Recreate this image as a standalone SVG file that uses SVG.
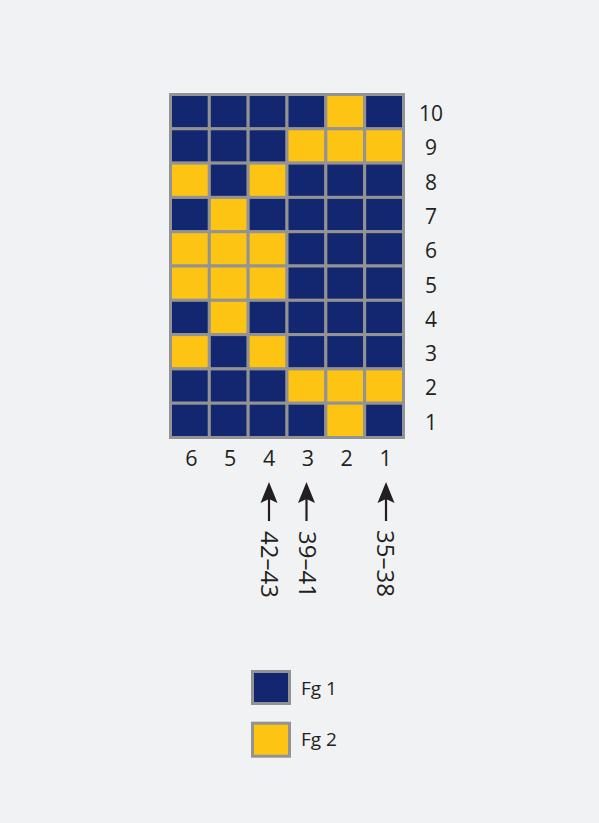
<svg xmlns="http://www.w3.org/2000/svg" width="599" height="823" viewBox="0 0 599 823">
<style>
.n{fill:#12276f;stroke:#939393;stroke-width:3}
.y{fill:#fec413;stroke:#939393;stroke-width:3}
text{font-family:"Open Sans","Noto Sans","Liberation Sans",sans-serif;fill:#231f20}
.rl{font-size:21px;text-anchor:middle}
.cl{font-size:21.5px;text-anchor:middle}
.rt{font-size:24px}
.lg{font-size:19px}
.ar{stroke:#231f20;stroke-width:2.2;fill:none}
.ah{fill:#231f20}
</style>
<rect x="0" y="0" width="599" height="823" fill="#f1f2f4"/>
<g id="grid">
<!-- row 10 -->
<rect class="n" x="170.5" y="94.5" width="38.83" height="34.3"/>
<rect class="n" x="209.33" y="94.5" width="38.83" height="34.3"/>
<rect class="n" x="248.17" y="94.5" width="38.83" height="34.3"/>
<rect class="n" x="287" y="94.5" width="38.83" height="34.3"/>
<rect class="y" x="325.83" y="94.5" width="38.83" height="34.3"/>
<rect class="n" x="364.67" y="94.5" width="38.83" height="34.3"/>
<!-- row 9 -->
<rect class="n" x="170.5" y="128.8" width="38.83" height="34.3"/>
<rect class="n" x="209.33" y="128.8" width="38.83" height="34.3"/>
<rect class="n" x="248.17" y="128.8" width="38.83" height="34.3"/>
<rect class="y" x="287" y="128.8" width="38.83" height="34.3"/>
<rect class="y" x="325.83" y="128.8" width="38.83" height="34.3"/>
<rect class="y" x="364.67" y="128.8" width="38.83" height="34.3"/>
<!-- row 8 -->
<rect class="y" x="170.5" y="163.1" width="38.83" height="34.3"/>
<rect class="n" x="209.33" y="163.1" width="38.83" height="34.3"/>
<rect class="y" x="248.17" y="163.1" width="38.83" height="34.3"/>
<rect class="n" x="287" y="163.1" width="38.83" height="34.3"/>
<rect class="n" x="325.83" y="163.1" width="38.83" height="34.3"/>
<rect class="n" x="364.67" y="163.1" width="38.83" height="34.3"/>
<!-- row 7 -->
<rect class="n" x="170.5" y="197.4" width="38.83" height="34.3"/>
<rect class="y" x="209.33" y="197.4" width="38.83" height="34.3"/>
<rect class="n" x="248.17" y="197.4" width="38.83" height="34.3"/>
<rect class="n" x="287" y="197.4" width="38.83" height="34.3"/>
<rect class="n" x="325.83" y="197.4" width="38.83" height="34.3"/>
<rect class="n" x="364.67" y="197.4" width="38.83" height="34.3"/>
<!-- row 6 -->
<rect class="y" x="170.5" y="231.7" width="38.83" height="34.3"/>
<rect class="y" x="209.33" y="231.7" width="38.83" height="34.3"/>
<rect class="y" x="248.17" y="231.7" width="38.83" height="34.3"/>
<rect class="n" x="287" y="231.7" width="38.83" height="34.3"/>
<rect class="n" x="325.83" y="231.7" width="38.83" height="34.3"/>
<rect class="n" x="364.67" y="231.7" width="38.83" height="34.3"/>
<!-- row 5 -->
<rect class="y" x="170.5" y="266" width="38.83" height="34.3"/>
<rect class="y" x="209.33" y="266" width="38.83" height="34.3"/>
<rect class="y" x="248.17" y="266" width="38.83" height="34.3"/>
<rect class="n" x="287" y="266" width="38.83" height="34.3"/>
<rect class="n" x="325.83" y="266" width="38.83" height="34.3"/>
<rect class="n" x="364.67" y="266" width="38.83" height="34.3"/>
<!-- row 4 -->
<rect class="n" x="170.5" y="300.3" width="38.83" height="34.3"/>
<rect class="y" x="209.33" y="300.3" width="38.83" height="34.3"/>
<rect class="n" x="248.17" y="300.3" width="38.83" height="34.3"/>
<rect class="n" x="287" y="300.3" width="38.83" height="34.3"/>
<rect class="n" x="325.83" y="300.3" width="38.83" height="34.3"/>
<rect class="n" x="364.67" y="300.3" width="38.83" height="34.3"/>
<!-- row 3 -->
<rect class="y" x="170.5" y="334.6" width="38.83" height="34.3"/>
<rect class="n" x="209.33" y="334.6" width="38.83" height="34.3"/>
<rect class="y" x="248.17" y="334.6" width="38.83" height="34.3"/>
<rect class="n" x="287" y="334.6" width="38.83" height="34.3"/>
<rect class="n" x="325.83" y="334.6" width="38.83" height="34.3"/>
<rect class="n" x="364.67" y="334.6" width="38.83" height="34.3"/>
<!-- row 2 -->
<rect class="n" x="170.5" y="368.9" width="38.83" height="34.3"/>
<rect class="n" x="209.33" y="368.9" width="38.83" height="34.3"/>
<rect class="n" x="248.17" y="368.9" width="38.83" height="34.3"/>
<rect class="y" x="287" y="368.9" width="38.83" height="34.3"/>
<rect class="y" x="325.83" y="368.9" width="38.83" height="34.3"/>
<rect class="y" x="364.67" y="368.9" width="38.83" height="34.3"/>
<!-- row 1 -->
<rect class="n" x="170.5" y="403.2" width="38.83" height="34.3"/>
<rect class="n" x="209.33" y="403.2" width="38.83" height="34.3"/>
<rect class="n" x="248.17" y="403.2" width="38.83" height="34.3"/>
<rect class="n" x="287" y="403.2" width="38.83" height="34.3"/>
<rect class="y" x="325.83" y="403.2" width="38.83" height="34.3"/>
<rect class="n" x="364.67" y="403.2" width="38.83" height="34.3"/>
</g>
<g id="row-labels">
<text class="rl" x="431" y="121">10</text>
<text class="rl" x="431" y="155.3">9</text>
<text class="rl" x="431" y="189.6">8</text>
<text class="rl" x="431" y="223.9">7</text>
<text class="rl" x="431" y="258.2">6</text>
<text class="rl" x="431" y="292.5">5</text>
<text class="rl" x="431" y="326.8">4</text>
<text class="rl" x="431" y="361.1">3</text>
<text class="rl" x="431" y="395.4">2</text>
<text class="rl" x="431" y="429.7">1</text>
</g>
<g id="col-labels">
<text class="cl" x="191.4" y="466">6</text>
<text class="cl" x="230.2" y="466">5</text>
<text class="cl" x="269.1" y="466">4</text>
<text class="cl" x="307.9" y="466">3</text>
<text class="cl" x="346.7" y="466">2</text>
<text class="cl" x="385.6" y="466">1</text>
</g>
<g id="connectors">
<line class="ar" x1="269" y1="521" x2="269" y2="499"/>
<path class="ah" d="M269,482 L277.5,503 L269,499 L260.5,503 Z"/>
<line class="ar" x1="306.5" y1="521" x2="306.5" y2="499"/>
<path class="ah" d="M306.5,482 L315,503 L306.5,499 L298,503 Z"/>
<line class="ar" x1="386" y1="521" x2="386" y2="499"/>
<path class="ah" d="M386,482 L394.5,503 L386,499 L377.5,503 Z"/>
</g>
<g id="ranges">
<text class="rt" transform="translate(260.5,531) rotate(90)">42–43</text>
<text class="rt" transform="translate(298.5,531) rotate(90)">39–41</text>
<text class="rt" transform="translate(377,530) rotate(90)">35–38</text>
</g>
<g id="legend-fg1">
<rect class="n" x="252.5" y="671.5" width="37" height="32"/>
<text class="lg" x="301" y="695">Fg 1</text>
</g>
<g id="legend-fg2">
<rect class="y" x="252.5" y="723.2" width="37" height="33"/>
<text class="lg" x="301" y="746">Fg 2</text>
</g>
</svg>
